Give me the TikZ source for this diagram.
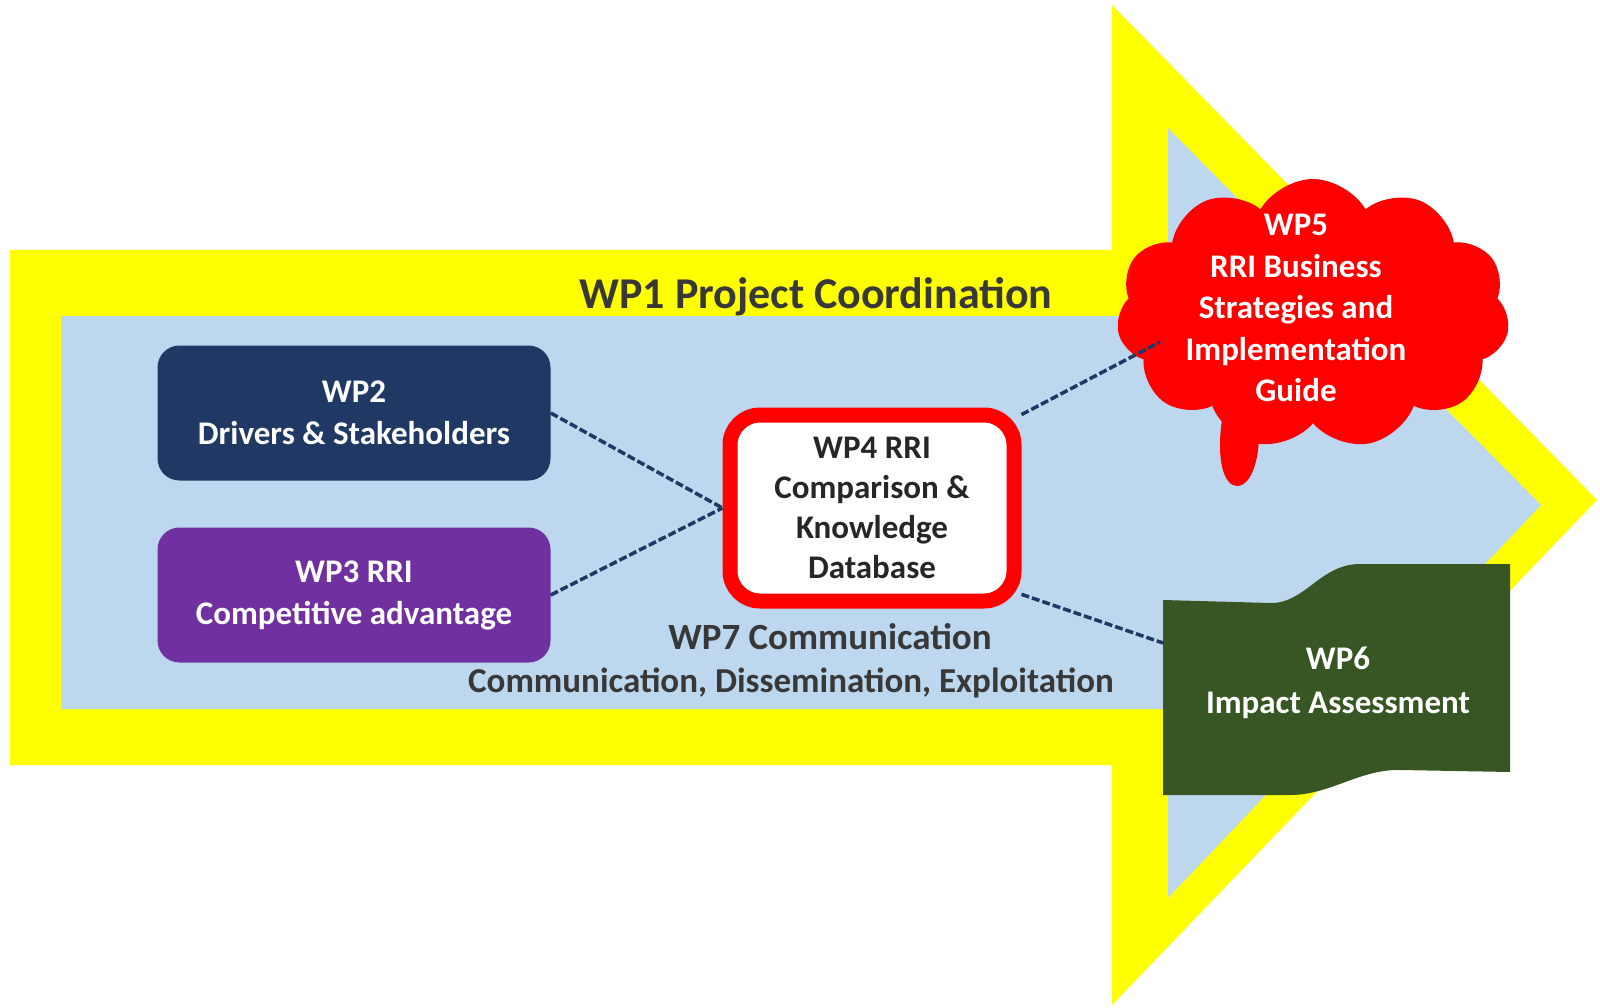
\documentclass[tikz,border=0pt]{standalone}
\usepackage{fontspec}
\setmainfont{Carlito}
\usetikzlibrary{shapes.symbols}
\definecolor{arrowyellow}{HTML}{FFFF00}
\definecolor{arrowblue}{HTML}{BDD7EE}
\definecolor{wpnavy}{HTML}{203864}
\definecolor{wppurple}{HTML}{7030A0}
\definecolor{wpred}{HTML}{FF0000}
\definecolor{wpgreen}{HTML}{375623}
\definecolor{wpgrey}{HTML}{383838}
\definecolor{connnavy}{HTML}{1F3864}
\begin{document}
\begin{tikzpicture}[x=1pt,y=-1pt,
  wpbox/.style={rectangle, rounded corners=22pt, minimum width=393pt, minimum height=135pt,
    text=white, align=center, font=\fontsize{33}{42}\selectfont\bfseries, inner sep=0pt},
  dbbox/.style={rectangle, rounded corners=30pt, draw=wpred, line width=15pt, fill=white,
    minimum width=284pt, minimum height=186pt, align=center, text=black!85,
    font=\fontsize{33}{40}\selectfont\bfseries, inner sep=0pt},
  whitetext/.style={text=white, align=center, font=\fontsize{33}{42}\selectfont\bfseries, inner sep=0pt},
  greytext/.style={text=wpgrey, inner sep=0pt, font=\bfseries},
  conn/.style={draw=connnavy, line width=3.5pt, dash pattern=on 8pt off 3pt},
]
\useasboundingbox (0,0) rectangle (1600,1008);

% big arrow: yellow outer, light blue inner
\fill[arrowyellow] (10,250) -- (1112,250) -- (1112,5) -- (1597,500) -- (1112,1005)
  -- (1112,765) -- (10,765) -- cycle;
\fill[arrowblue] (61,316) -- (1168,316) -- (1168,128) -- (1541,505) -- (1168,898)
  -- (1168,709) -- (61,709) -- cycle;

% title
\node[greytext, font=\fontsize{44}{50}\selectfont\bfseries] (title) at (816,297) {WP1 Project Coordination};

% left boxes
\node[wpbox, fill=wpnavy] (wp2) at (354,413) {WP2\\Drivers \& Stakeholders};
\node[wpbox, fill=wppurple] (wp3) at (354,595) {WP3 RRI\\Competitive advantage};

% central database box
\node[dbbox] (wp4) at (872,508) {WP4 RRI\\Comparison \&\\Knowledge\\Database};

% cloud WP5
\node[cloud, cloud puffs=11, cloud puff arc=120, fill=wpred, minimum width=393pt,
  minimum height=270pt, inner sep=0pt] (cloud) at (1313,314) {};
\fill[wpred] (1222,420) .. controls (1216,460) and (1224,486) .. (1237,486)
  .. controls (1252,486) and (1262,455) .. (1258,420) -- cycle;
\node[whitetext, font=\fontsize{33}{41.5}\selectfont\bfseries] (wp5) at (1296,308)
  {WP5\\RRI Business\\Strategies and\\Implementation\\Guide};
\coordinate (cloudSW) at (1160,342);

% green wave WP6
\fill[wpgreen] (1163,600) -- (1270,603) .. controls (1305,604) and (1320,564) .. (1360,564)
  -- (1510,564) -- (1510,772) -- (1400,770) .. controls (1360,769) and (1330,795) .. (1290,795)
  -- (1163,795) -- cycle;
\coordinate (greenW) at (1163,643);
\node[whitetext, font=\fontsize{33}{44}\selectfont\bfseries] (wp6) at (1338,683)
  {WP6\\Impact Assessment};

% WP7 text
\node[greytext, font=\fontsize{37}{44}\selectfont\bfseries] (wp7a) at (830,637) {WP7 Communication};
\node[greytext, font=\fontsize{35}{42}\selectfont\bfseries] (wp7b) at (791,683)
  {Communication, Dissemination, Exploitation};

% connectors
\draw[conn] (wp2.east) -- (wp4.west);
\draw[conn] (wp3.east) -- (wp4.west);
\draw[conn] (wp4.32) -- (cloudSW);
\draw[conn] (wp4.-30) -- (greenW);
\end{tikzpicture}
\end{document}
